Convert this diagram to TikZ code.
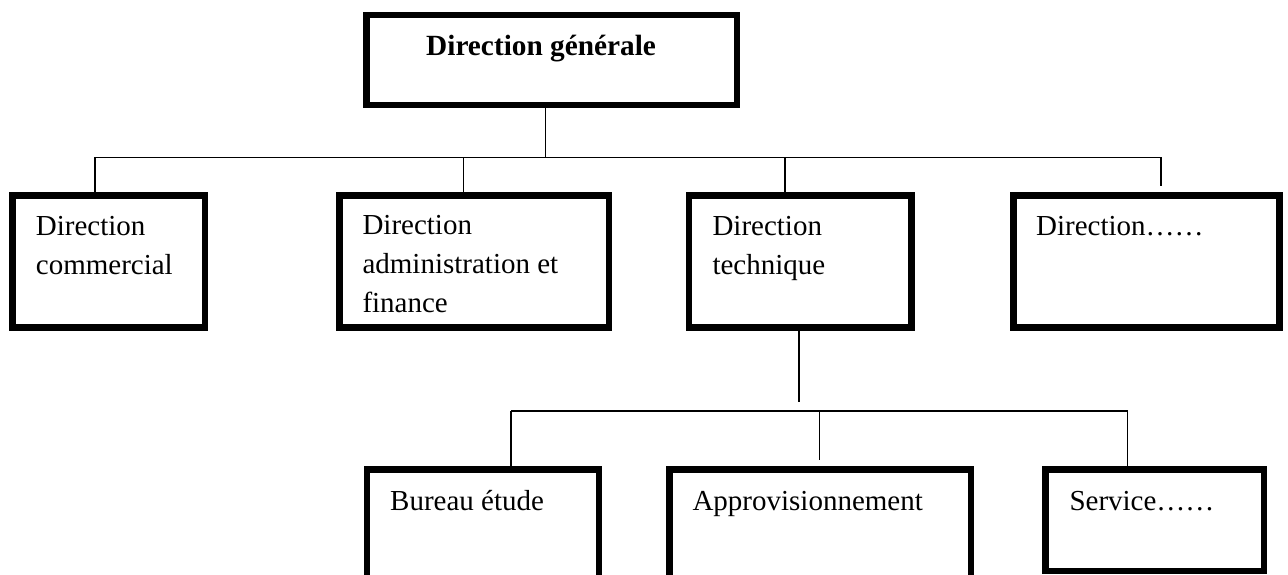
\documentclass[tikz,border=0pt]{standalone}
\usepackage{fontspec}
\setmainfont{Liberation Serif}
\begin{document}
\begin{tikzpicture}[x=1pt,y=-1pt,
  box/.style={draw=black,line width=6.5pt,rectangle,inner sep=0pt,fill=none},
  conn/.style={draw=black,line width=1.3pt},
  txt/.style={anchor=base west,inner sep=0pt,align=left,font=\fontsize{29}{39}\selectfont},
  btxt/.style={anchor=base west,inner sep=0pt,font=\fontsize{29.3}{39}\selectfont\bfseries}]
\useasboundingbox (0,0) rectangle (1288,574);
\clip (0,0) rectangle (1288,574);
% boxes (stroke centres)
\node[box,minimum width=370.3pt,minimum height=89.8pt] (dg) at (551.85,60.1) {};
\node[box,minimum width=192.3pt,minimum height=131.6pt] (dc) at (108.85,261.5) {};
\node[box,minimum width=269.7pt,minimum height=131.6pt] (daf) at (474.15,261.5) {};
\node[box,minimum width=222.3pt,minimum height=131.6pt] (dt) at (800.15,261.5) {};
\node[box,minimum width=266pt,minimum height=131.6pt] (dx) at (1146.3,261.5) {};
\node[box,minimum width=232pt,minimum height=140pt] (be) at (483,539.7) {};
\node[box,minimum width=301.3pt,minimum height=140pt] (ap) at (820.35,539.7) {};
\node[box,minimum width=218.3pt,minimum height=101.3pt] (sv) at (1154.85,520.35) {};
% texts (anchor = baseline of the last line)
\node[btxt] (dgt) at (426,55) {Direction générale};
\node[txt] (dct) at (35.7,274.5) {Direction\\commercial};
\node[txt] (daft) at (362.3,312.5) {Direction\\administration et\\finance};
\node[txt] (dtt) at (712.3,274.5) {Direction\\technique};
\node[txt] (dxt) at (1036,235) {Direction……};
\node[txt] (bet) at (390,510) {Bureau étude};
\node[txt] (apt) at (692.3,510) {Approvisionnement};
\node[txt] (svt) at (1069.3,510) {Service……};
% connector coordinates
\coordinate (busA) at (545.7,157.3);
\coordinate (busL) at (95,157.3);
\coordinate (busR) at (1161,157.3);
\coordinate (dxstub) at (1161,185.7);
\coordinate (tdrop) at (799,401.7);
\coordinate (busBL) at (511,411);
\coordinate (busBR) at (1127.7,411);
\coordinate (apstub) at (819.3,460);
% connectors
\draw[conn] (dg.south -| busA) -- (busA);
\draw[conn] (busL) -- (busR);
\draw[conn] (busL) -- (dc.north -| busL);
\draw[conn] (busA -| 463.3,0) -- (daf.north -| 463.3,0);
\draw[conn] (busA -| 785,0) -- (dt.north -| 785,0);
\draw[conn] (busR) -- (dxstub);
\draw[conn] (dt.south -| tdrop) -- (tdrop);
\draw[conn] (busBL) -- (busBR);
\draw[conn] (busBL) -- (be.north -| busBL);
\draw[conn] (apstub |- busBL) -- (apstub);
\draw[conn] (busBR) -- (sv.north -| busBR);
\end{tikzpicture}
\end{document}
